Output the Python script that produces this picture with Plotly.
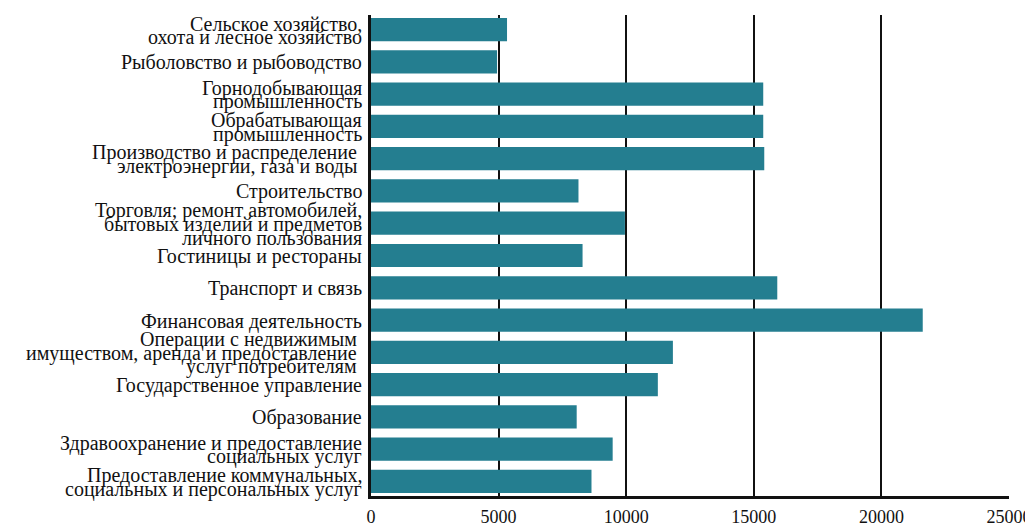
import plotly.graph_objects as go

# --- data ---
categories = [
    "Сельское хозяйство,\nохота и лесное хозяйство",
    "Рыболовство и рыбоводство",
    "Горнодобывающая\nпромышленность",
    "Обрабатывающая\nпромышленность",
    "Производство и распределение\u00a0\nэлектроэнергии, газа и воды\u00a0",
    "Строительство",
    "Торговля; ремонт автомобилей,\nбытовых изделий и предметов\nличного пользования",
    "Гостиницы и рестораны",
    "Транспорт и связь",
    "Финансовая деятельность",
    "Операции с недвижимым\u00a0\nимуществом, аренда и предоставление\u00a0\nуслуг потребителям\u00a0",
    "Государственное управление",
    "Образование",
    "Здравоохранение и предоставление\nсоциальных услуг",
    "Предоставление коммунальных,\nсоциальных и персональных услуг",
]
values = [5330, 4940, 15370, 15370, 15410, 8130, 9950, 8290, 15920,
          21620, 11830, 11240, 8060, 9470, 8640]
tick_vals = [0, 5000, 10000, 15000, 20000, 25000]

BAR_COLOR = "#247E90"
FONT = "Liberation Serif"
LINE_GAP = 13.5

keys = [c.split("\n")[0] for c in categories]

fig = go.Figure(go.Bar(
    x=values, y=keys, orientation="h",
    marker=dict(color=BAR_COLOR, line=dict(width=0)),
    width=0.72,
))

# multi-line category labels with tight line spacing
for key, label in zip(keys, categories):
    lines = label.split("\n")
    n = len(lines)
    for j, line in enumerate(lines):
        fig.add_annotation(
            x=0, xref="paper", y=key, yref="y",
            text=line, showarrow=False,
            xanchor="right", yanchor="middle",
            xshift=-7, yshift=((n - 1) / 2 - j) * LINE_GAP - 1,
            font=dict(family=FONT, size=20, color="#111111"),
        )

# page body adds an 8px offset, so the figure is sized to the visible part
fig.update_layout(
    width=1025, height=516,
    margin=dict(l=363, r=24, t=7, b=28, autoexpand=False),
    plot_bgcolor="white", paper_bgcolor="white",
    showlegend=False,
    font=dict(family=FONT, size=18, color="#111111"),
)
fig.update_xaxes(
    range=[0, 25000], tickvals=tick_vals, ticktext=[str(v) for v in tick_vals],
    showgrid=True, gridcolor="#111111", gridwidth=1.5,
    showline=True, linecolor="#111111", linewidth=3,
    zeroline=False, ticks="", ticklen=0, automargin=False,
    ticklabelstandoff=2,
    tickfont=dict(family=FONT, size=18),
)
fig.update_yaxes(
    range=[len(keys) - 0.55, -0.45], showticklabels=False, showgrid=False,
    showline=True, linecolor="#111111", linewidth=3, ticks="",
    automargin=False,
)

fig.write_html("out.html")
